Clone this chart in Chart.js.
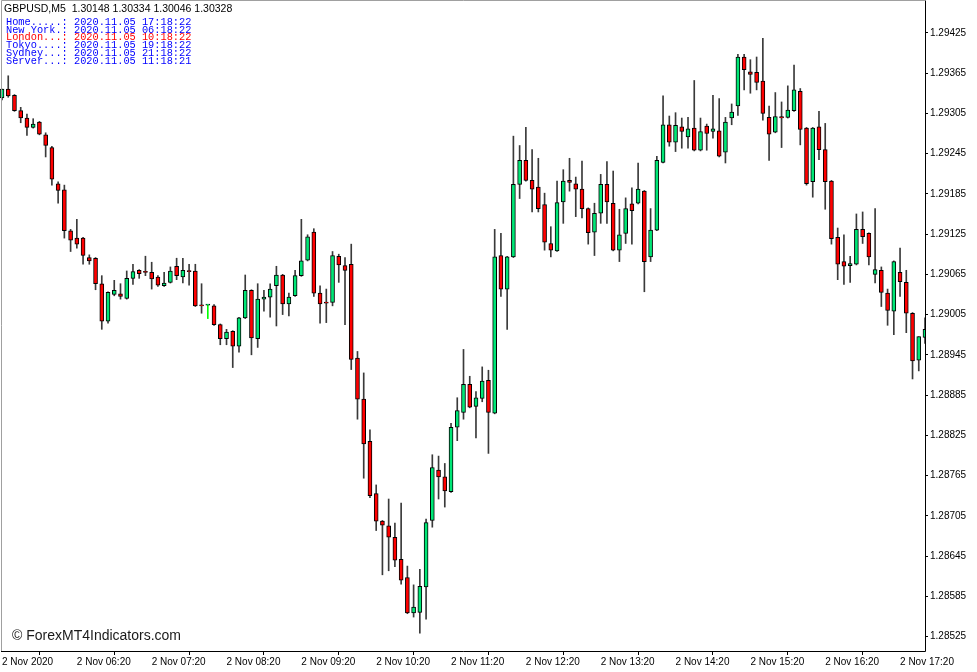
<!DOCTYPE html>
<html>
<head>
<meta charset="utf-8">
<script src="https://cdn.jsdelivr.net/npm/chart.js@4.4.0/dist/chart.umd.min.js"></script>
<style>
  html, body { margin: 0; padding: 0; background: #fff; }
</style>
</head>
<body>
<canvas id="chart" width="977" height="672"></canvas>
<script>
// GBPUSD M5, 2 Nov 2020, 05:20 .. 17:40
var times = [
  '05:20','05:25','05:30','05:35','05:40','05:45','05:50','05:55','06:00','06:05','06:10','06:15',
  '06:20','06:25','06:30','06:35','06:40','06:45','06:50','06:55','07:00','07:05','07:10','07:15',
  '07:20','07:25','07:30','07:35','07:40','07:45','07:50','07:55','08:00','08:05','08:10','08:15',
  '08:20','08:25','08:30','08:35','08:40','08:45','08:50','08:55','09:00','09:05','09:10','09:15',
  '09:20','09:25','09:30','09:35','09:40','09:45','09:50','09:55','10:00','10:05','10:10','10:15',
  '10:20','10:25','10:30','10:35','10:40','10:45','10:50','10:55','11:00','11:05','11:10','11:15',
  '11:20','11:25','11:30','11:35','11:40','11:45','11:50','11:55','12:00','12:05','12:10','12:15',
  '12:20','12:25','12:30','12:35','12:40','12:45','12:50','12:55','13:00','13:05','13:10','13:15',
  '13:20','13:25','13:30','13:35','13:40','13:45','13:50','13:55','14:00','14:05','14:10','14:15',
  '14:20','14:25','14:30','14:35','14:40','14:45','14:50','14:55','15:00','15:05','15:10','15:15',
  '15:20','15:25','15:30','15:35','15:40','15:45','15:50','15:55','16:00','16:05','16:10','16:15',
  '16:20','16:25','16:30','16:35','16:40','16:45','16:50','16:55','17:00','17:05','17:10','17:15',
  '17:20','17:25','17:30','17:35','17:40'
];

var opens = [
  1.29328,1.29341,1.29332,1.29309,1.29298,1.29284,1.29292,1.29273,1.29254,1.29200,1.29191,1.29130,
  1.29119,1.29119,1.29090,1.29089,1.29051,1.28995,1.29035,1.29036,1.29029,1.29059,1.29071,1.29069,
  1.29068,1.29061,1.29048,1.29053,1.29077,1.29061,1.29070,1.29070,1.29019,1.29019,1.29018,1.28990,
  1.28969,1.28980,1.28958,1.29000,1.29041,1.28969,1.29028,1.29031,1.29048,1.29064,1.29021,1.29033,
  1.29063,1.29086,1.29128,1.29037,1.29023,1.29023,1.29092,1.29078,1.29080,1.28940,1.28879,1.28816,
  1.28738,1.28697,1.28690,1.28673,1.28640,1.28613,1.28560,1.28561,1.28599,1.28698,1.28773,1.28763,
  1.28741,1.28837,1.28859,1.28901,1.28868,1.28880,1.28907,1.28858,1.29093,1.29043,1.29091,1.29199,
  1.29235,1.29205,1.29195,1.29169,1.29111,1.29100,1.29173,1.29205,1.29200,1.29192,1.29163,1.29128,
  1.29156,1.29199,1.29171,1.29101,1.29126,1.29170,1.29171,1.29189,1.29091,1.29131,1.29232,1.29288,
  1.29262,1.29285,1.29270,1.29283,1.29250,1.29286,1.29278,1.29279,1.29247,1.29298,1.29316,1.29389,
  1.29367,1.29366,1.29353,1.29299,1.29277,1.29300,1.29299,1.29309,1.29338,1.29283,1.29203,1.29285,
  1.29251,1.29204,1.29120,1.29084,1.29078,1.29080,1.29132,1.29126,1.29065,1.29071,1.29037,1.29010,
  1.29068,1.29053,1.29007,1.28937,1.28971
];
var highs = [
  1.29341,1.29361,1.29333,1.29314,1.29304,1.29297,1.29293,1.29276,1.29256,1.29203,1.29198,1.29132,
  1.29147,1.29120,1.29094,1.29090,1.29063,1.29039,1.29056,1.29051,1.29070,1.29080,1.29072,1.29092,
  1.29083,1.29063,1.29068,1.29076,1.29089,1.29089,1.29080,1.29080,1.29051,1.29020,1.29020,1.28991,
  1.28983,1.28981,1.29001,1.29064,1.29042,1.29051,1.29041,1.29051,1.29077,1.29065,1.29037,1.29071,
  1.29147,1.29124,1.29133,1.29048,1.29043,1.29099,1.29095,1.29090,1.29110,1.28950,1.28918,1.28833,
  1.28751,1.28698,1.28730,1.28694,1.28724,1.28630,1.28602,1.28625,1.28700,1.28796,1.28794,1.28783,
  1.28843,1.28881,1.28953,1.28913,1.28890,1.28927,1.28922,1.29132,1.29126,1.29092,1.29271,1.29257,
  1.29284,1.29251,1.29238,1.29186,1.29136,1.29204,1.29221,1.29238,1.29210,1.29234,1.29164,1.29171,
  1.29214,1.29233,1.29219,1.29162,1.29179,1.29194,1.29231,1.29190,1.29163,1.29241,1.29331,1.29301,
  1.29306,1.29298,1.29299,1.29354,1.29298,1.29289,1.29332,1.29327,1.29299,1.29319,1.29393,1.29393,
  1.29385,1.29389,1.29417,1.29316,1.29336,1.29322,1.29346,1.29377,1.29342,1.29284,1.29284,1.29308,
  1.29290,1.29205,1.29134,1.29124,1.29092,1.29155,1.29158,1.29127,1.29163,1.29076,1.29043,1.29085,
  1.29104,1.29071,1.29008,1.28972,1.29000
];
var lows = [
  1.29325,1.29329,1.29308,1.29291,1.29272,1.29283,1.29273,1.29240,1.29198,1.29171,1.29119,1.29099,
  1.29104,1.29080,1.29080,1.29042,1.28983,1.28992,1.29033,1.29028,1.29028,1.29050,1.29059,1.29063,
  1.29043,1.29047,1.29047,1.29052,1.29057,1.29052,1.29049,1.29017,1.29007,1.28999,1.28989,1.28960,
  1.28960,1.28926,1.28949,1.28999,1.28945,1.28956,1.29010,1.29001,1.28988,1.29005,1.29003,1.29032,
  1.29062,1.29085,1.29032,1.28992,1.28993,1.29018,1.29053,1.28990,1.28923,1.28849,1.28761,1.28732,
  1.28683,1.28617,1.28623,1.28629,1.28603,1.28559,1.28554,1.28530,1.28551,1.28688,1.28730,1.28718,
  1.28740,1.28817,1.28849,1.28866,1.28821,1.28875,1.28798,1.28857,1.29032,1.28983,1.29090,1.29178,
  1.29204,1.29158,1.29158,1.29101,1.29091,1.29099,1.29141,1.29189,1.29151,1.29149,1.29110,1.29093,
  1.29141,1.29141,1.29100,1.29084,1.29111,1.29110,1.29170,1.29039,1.29084,1.29130,1.29231,1.29256,
  1.29248,1.29253,1.29253,1.29249,1.29249,1.29250,1.29268,1.29240,1.29231,1.29288,1.29302,1.29340,
  1.29335,1.29340,1.29295,1.29235,1.29276,1.29254,1.29298,1.29308,1.29258,1.29198,1.29180,1.29236,
  1.29162,1.29110,1.29057,1.29050,1.29053,1.29079,1.29111,1.29079,1.29052,1.29017,1.28989,1.28975,
  1.29032,1.28978,1.28909,1.28921,1.28962
];
var closes = [
  1.29341,1.29331,1.29309,1.29298,1.29284,1.29289,1.29274,1.29257,1.29207,1.29190,1.29130,1.29116,
  1.29110,1.29093,1.29085,1.29051,1.28995,1.29038,1.29041,1.29032,1.29059,1.29069,1.29066,1.29068,
  1.29058,1.29049,1.29052,1.29070,1.29063,1.29071,1.29069,1.29018,1.29018,1.29019,1.28990,1.28969,
  1.28979,1.28958,1.29000,1.29041,1.28970,1.29028,1.29031,1.29043,1.29064,1.29021,1.29031,1.29063,
  1.29085,1.29121,1.29037,1.29021,1.29022,1.29093,1.29079,1.29071,1.28938,1.28879,1.28812,1.28735,
  1.28697,1.28691,1.28673,1.28639,1.28609,1.28560,1.28569,1.28600,1.28695,1.28777,1.28763,1.28742,
  1.28837,1.28862,1.28901,1.28867,1.28881,1.28906,1.28859,1.29091,1.29043,1.29091,1.29199,1.29235,
  1.29205,1.29192,1.29163,1.29113,1.29101,1.29172,1.29204,1.29202,1.29192,1.29163,1.29127,1.29156,
  1.29199,1.29173,1.29101,1.29124,1.29163,1.29160,1.29192,1.29084,1.29131,1.29235,1.29288,1.29262,
  1.29287,1.29278,1.29282,1.29250,1.29278,1.29275,1.29282,1.29241,1.29292,1.29307,1.29389,1.29370,
  1.29363,1.29351,1.29305,1.29274,1.29300,1.29298,1.29310,1.29340,1.29281,1.29200,1.29283,1.29251,
  1.29203,1.29118,1.29080,1.29077,1.29081,1.29132,1.29121,1.29091,1.29072,1.29038,1.29011,1.29084,
  1.29054,1.29007,1.28936,1.28972,1.28983
];

var xTickLabels = [
  '2 Nov 2020', '2 Nov 06:20', '2 Nov 07:20', '2 Nov 08:20', '2 Nov 09:20', '2 Nov 10:20',
  '2 Nov 11:20', '2 Nov 12:20', '2 Nov 13:20', '2 Nov 14:20', '2 Nov 15:20', '2 Nov 16:20', '2 Nov 17:20'
];
var yTicks = [
  1.28525, 1.28585, 1.28645, 1.28705, 1.28765, 1.28825, 1.28885, 1.28945,
  1.29005, 1.29065, 1.29125, 1.29185, 1.29245, 1.29305, 1.29365, 1.29425
];

var headerText = 'GBPUSD,M5  1.30148 1.30334 1.30046 1.30328';
var clockNames = ['Home.....:', 'New York.:', 'London...:', 'Tokyo....:', 'Sydney...:', 'Server...:'];
var clockTimes = ['2020.11.05 17:18:22', '2020.11.05 06:18:22', '2020.11.05 10:18:22',
                  '2020.11.05 19:18:22', '2020.11.05 21:18:22', '2020.11.05 11:18:21'];
var clockColors = ['#0000ff', '#0000ff', '#ff0000', '#0000ff', '#0000ff', '#0000ff'];

var BULL = '#00e676';
var BEAR = '#ff0000';

var bodies = opens.map(function (o, i) { return [o, closes[i]]; });
var wicks = lows.map(function (l, i) { return [l, highs[i]]; });
var bodyColors = opens.map(function (o, i) { return closes[i] >= o ? BULL : BEAR; });
// a doji (open == close) is drawn as a bright green cross in the terminal
var wickColors = opens.map(function (o, i) { return closes[i] === o ? '#00ff00' : '#3a3a3a'; });

var overlay = {
  id: 'overlay',
  afterDraw: function (chart) {
    var ctx = chart.ctx;
    var a = chart.chartArea;
    ctx.save();
    // frame
    ctx.lineWidth = 1;
    ctx.strokeStyle = '#a0a0a0';
    ctx.beginPath();
    ctx.moveTo(a.left - 0.5, a.bottom);
    ctx.lineTo(a.left - 0.5, a.top - 0.5);
    ctx.lineTo(a.right, a.top - 0.5);
    ctx.stroke();
    ctx.strokeStyle = '#000';
    ctx.beginPath();
    ctx.moveTo(a.right + 0.5, a.top - 0.5);
    ctx.lineTo(a.right + 0.5, a.bottom + 0.5);
    ctx.lineTo(a.left - 1, a.bottom + 0.5);
    ctx.stroke();

    // header line
    ctx.textBaseline = 'middle';
    ctx.fillStyle = '#000';
    ctx.font = '10.5px "Liberation Sans", Arial, sans-serif';
    ctx.fillText(headerText, 4, 9);

    // clocks
    var ys = [22, 30, 37.5, 45, 53, 61];
    ctx.font = '10.3px "Liberation Mono", "Courier New", monospace';
    for (var i = 0; i < clockNames.length; i++) {
      ctx.fillStyle = clockColors[i];
      ctx.fillText(clockNames[i] + ' ' + clockTimes[i], 6, ys[i]);
    }

    // watermark
    ctx.fillStyle = '#1a1a1a';
    ctx.font = '14px "Liberation Sans", Arial, sans-serif';
    ctx.fillText('\u00a9 ForexMT4Indicators.com', 12, 636);
    ctx.restore();
  }
};

var canvas = document.getElementById('chart');
var clipArea = { left: 2, top: 0, right: 0, bottom: 0 };

new Chart(canvas, {
  type: 'bar',
  data: {
    labels: times,
    datasets: [
      {
        data: bodies,
        backgroundColor: bodyColors,
        borderColor: '#000',
        borderWidth: 1,
        borderSkipped: false,
        barThickness: 4,
        minBarLength: 1,
        grouped: false,
        order: 0,
        clip: clipArea
      },
      {
        data: wicks,
        backgroundColor: wickColors,
        borderWidth: 0,
        barThickness: 1,
        grouped: false,
        order: 1,
        clip: clipArea
      }
    ]
  },
  options: {
    responsive: false,
    animation: false,
    layout: { padding: { left: 2, top: 1, right: 0, bottom: 0 } },
    plugins: {
      legend: { display: false },
      tooltip: { enabled: false }
    },
    scales: {
      x: {
        offset: false,
        grid: { display: true, drawOnChartArea: false, drawTicks: true, tickLength: 4, color: '#000' },
        border: { display: false },
        ticks: {
          autoSkip: false,
          maxRotation: 0,
          minRotation: 0,
          align: 'start',
          padding: 1,
          color: '#000',
          font: { family: '"Liberation Sans", Arial, sans-serif', size: 10 },
          callback: function (value) { return xTickLabels[value / 12]; }
        },
        afterBuildTicks: function (scale) {
          scale.ticks = scale.ticks.filter(function (t) { return t.value % 12 === 0; });
        },
        afterFit: function (scale) {
          scale.height = 21;
          scale.paddingLeft = 0;
          scale.paddingRight = 0;
        }
      },
      y: {
        position: 'right',
        min: 1.285034,
        max: 1.294725,
        grid: { display: true, drawOnChartArea: false, drawTicks: true, tickLength: 3, color: '#000' },
        border: { display: false },
        ticks: {
          padding: 2,
          color: '#000',
          font: { family: '"Liberation Sans", Arial, sans-serif', size: 10 },
          callback: function (value) { return value.toFixed(5); }
        },
        afterBuildTicks: function (scale) {
          scale.ticks = yTicks.map(function (v) { return { value: v }; });
        },
        afterFit: function (scale) {
          scale.width = 52;
          scale.paddingTop = 0;
          scale.paddingBottom = 0;
        }
      }
    }
  },
  plugins: [overlay]
});
</script>
</body>
</html>
